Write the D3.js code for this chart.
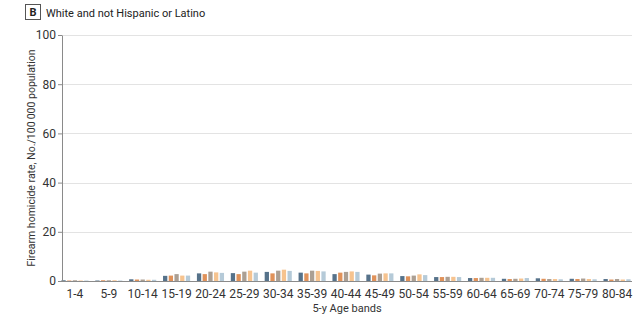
<!DOCTYPE html>
<html>
  <head>
    <meta charset="UTF-8" />
    <title>Firearm homicide rate by age band</title>
    <script src="https://d3js.org/d3.v7.min.js"></script>
    <style>
      body { margin: 0; background: #fff; font-family: Roboto, "Noto Sans", sans-serif; }
      .grid line { stroke: #e3e3e3; }
      .axis text { fill: #333; font-size: 12px; font-family: Roboto, sans-serif; }
      .axis path, .axis line { stroke: #8a8a8a; }
    </style>
  </head>
  <body>
    <svg id="chart" width="637" height="317"></svg>
    <script>
      const ageBands = ["1-4", "5-9", "10-14", "15-19", "20-24", "25-29", "30-34", "35-39",
        "40-44", "45-49", "50-54", "55-59", "60-64", "65-69", "70-74", "75-79", "80-84"];
      const seriesNames = ["S1", "S2", "S3", "S4", "S5"];
      const seriesColors = ["#56728a", "#e0925a", "#ab9f93", "#f6c38f", "#b5cad8"];
      const s1 = [0.3, 0.2, 0.7, 2.1, 3.1, 3.2, 3.7, 3.4, 2.8, 2.6, 2.0, 1.6, 1.2, 0.9, 1.1, 0.9, 0.8];
      const s2 = [0.2, 0.3, 0.6, 2.2, 2.8, 2.8, 3.1, 3.1, 3.4, 2.3, 1.9, 1.6, 1.2, 0.8, 0.9, 0.8, 0.6];
      const s3 = [0.3, 0.3, 0.6, 2.8, 3.8, 3.8, 4.2, 4.2, 3.7, 3.0, 2.2, 1.7, 1.3, 0.9, 0.8, 1.0, 0.8];
      const s4 = [0.2, 0.3, 0.5, 2.2, 3.5, 4.2, 4.6, 4.1, 3.9, 3.1, 2.7, 1.7, 1.3, 1.0, 0.8, 0.8, 0.6];
      const s5 = [0.2, 0.2, 0.5, 2.2, 3.3, 3.4, 4.1, 3.9, 3.7, 3.1, 2.4, 1.6, 1.3, 1.2, 0.7, 0.7, 0.7];
      const yTicks = [0, 20, 40, 60, 80, 100];

      const series = [s1, s2, s3, s4, s5];
      const svg = d3.select("#chart");
      const margin = { left: 62, right: 3, top: 35, bottom: 36 };
      const width = 637, height = 317;

      const x = d3.scaleBand().domain(ageBands)
        .range([margin.left - 4, width - margin.right]).paddingInner(0.2).paddingOuter(0.1);
      const xInner = d3.scaleBand().domain(seriesNames)
        .range([0, x.bandwidth()]).paddingInner(0.25);
      const y = d3.scaleLinear().domain([0, 100]).range([height - margin.bottom, margin.top]);

      // header
      svg.append("rect").attr("x", 25.5).attr("y", 4.5).attr("width", 15).attr("height", 15)
        .attr("fill", "#fff").attr("stroke", "#555");
      svg.append("text").attr("x", 33).attr("y", 16).attr("text-anchor", "middle")
        .attr("font-size", 11).attr("font-weight", "bold").attr("fill", "#222").text("B");
      svg.append("text").attr("x", 46).attr("y", 16.5).attr("font-size", 11)
        .attr("fill", "#222").text("White and not Hispanic or Latino");

      // gridlines
      svg.append("g").attr("class", "grid")
        .selectAll("line").data(yTicks.filter(d => d > 0)).join("line")
        .attr("x1", margin.left).attr("x2", width - 5)
        .attr("y1", d => Math.round(y(d)) + 0.5).attr("y2", d => Math.round(y(d)) + 0.5);

      // bars
      const groups = svg.append("g").selectAll("g").data(ageBands).join("g")
        .attr("transform", d => `translate(${x(d)},0)`);
      groups.selectAll("rect")
        .data((d, i) => series.map((s, k) => ({ key: seriesNames[k], v: s[i], k })))
        .join("rect")
        .attr("x", d => xInner(d.key))
        .attr("width", xInner.bandwidth())
        .attr("y", d => y(d.v))
        .attr("height", d => y(0) - y(d.v))
        .attr("fill", d => seriesColors[d.k]);

      // y axis
      svg.append("g").attr("class", "axis")
        .attr("transform", `translate(${margin.left},0)`)
        .call(d3.axisLeft(y).tickValues(yTicks).tickSize(4).tickSizeOuter(0).tickPadding(2));

      // x axis
      const xAxis = svg.append("g").attr("class", "axis")
        .attr("transform", `translate(0,${y(0)})`)
        .call(d3.axisBottom(x).tickSize(0).tickPadding(8));
      xAxis.select(".domain").attr("d", `M${margin.left},0.5H${width - 5}`);

      svg.append("text").attr("x", 347).attr("y", 312).attr("text-anchor", "middle")
        .attr("font-size", 11).attr("fill", "#333").text("5-y Age bands");
      svg.append("text").attr("transform", `translate(35,${(y(0) + y(100)) / 2}) rotate(-90)`)
        .attr("text-anchor", "middle").attr("font-size", 10.5).attr("fill", "#333")
        .text("Firearm homicide rate, No./100\u2009000 population");
    </script>
  </body>
</html>
